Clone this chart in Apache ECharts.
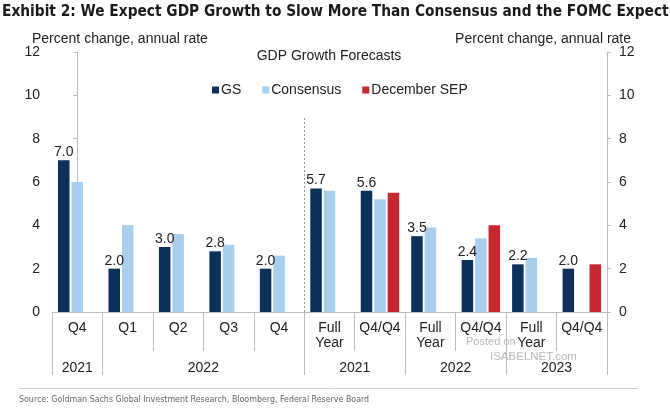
<!DOCTYPE html>
<html>
<head>
<meta charset="utf-8">
<script src="https://cdn.jsdelivr.net/npm/echarts@6/dist/echarts.min.js"></script>
<style>html,body{margin:0;padding:0;background:#fff}#c{width:670px;height:408px}</style>
</head>
<body>
<div id="c"></div>
<script>
const categories = ['Q4', 'Q1', 'Q2', 'Q3', 'Q4', 'Full\nYear', 'Q4/Q4', 'Full\nYear', 'Q4/Q4', 'Full\nYear', 'Q4/Q4'];
const gsValues = [7.0, 2.0, 3.0, 2.8, 2.0, 5.7, 5.6, 3.5, 2.4, 2.2, 2.0];
const consensusValues = [6.0, 4.0, 3.6, 3.1, 2.6, 5.6, 5.2, 3.9, 3.4, 2.5, null];
const sepValues = [null, null, null, null, null, null, 5.5, null, 4.0, null, 2.2];
const yearLabels = ['2021', '2022', '2021', '2022', '2023'];
const yearLabelPos = [0, 2.5, 5.5, 7.5, 9.5];
const yearBounds = [-0.5, 0.5, 4.5, 6.5, 8.5, 10.5];
const yTicks = { min: 0, max: 12, interval: 2 };
const dividerAt = 4.5;
const dividerTop = 9;

const NAVY = '#0c305c', LIGHT = '#a8cfee', RED = '#c6282f';
const AXIS = '#bdbdbd';
const FONT = '"Liberation Sans", Arial, sans-serif';
const NARROW = '"Liberation Sans Narrow", "DejaVu Sans Condensed", sans-serif';

const chart = echarts.init(document.getElementById('c'));
const yAxisCommon = {
  type: 'value', min: yTicks.min, max: yTicks.max, interval: yTicks.interval,
  axisLine: { show: true, lineStyle: { color: AXIS } },
  axisTick: { show: true, length: 4, lineStyle: { color: AXIS } },
  splitLine: { show: false },
  axisLabel: { fontSize: 14, color: '#222', fontFamily: FONT, margin: 12 }
};
function txt(size, color, family, weight) {
  return { fontFamily: family || FONT, fontWeight: weight || 'normal', fontSize: size, color: color || '#222' };
}
chart.setOption({
  animation: false,
  title: [
    { text: 'Exhibit 2: We Expect GDP Growth to Slow More Than Consensus and the FOMC Expect', left: 2, top: 5, padding: 0,
      textStyle: txt(15.3, '#1a1a1a', NARROW, 'bold') },
    { text: 'GDP Growth Forecasts', left: 329, top: 49, padding: 0, textAlign: 'center', textStyle: txt(14) },
    { text: 'Percent change, annual rate', left: 32, top: 32, padding: 0, textStyle: txt(14) },
    { text: 'Percent change, annual rate', right: 39, top: 32, padding: 0, textStyle: txt(14) },
    { text: 'Source: Goldman Sachs Global Investment Research, Bloomberg, Federal Reserve Board', left: 19, top: 395, padding: 0,
      textStyle: txt(8.8, '#666', NARROW) },
    { text: 'Posted on', left: 466, top: 336, padding: 0, textStyle: txt(11, '#b8b8b8') },
    { text: 'ISABELNET.com', left: 490, top: 351, padding: 0, textStyle: txt(11.5, '#b8b8b8') }
  ],
  graphic: [
    { type: 'line', shape: { x1: 19, y1: 388.5, x2: 638, y2: 388.5 }, style: { stroke: '#cfcfcf', lineWidth: 1 }, silent: true }
  ],
  legend: {
    left: 207, top: 78, itemWidth: 7, itemHeight: 7, itemGap: 21, icon: 'rect',
    textStyle: { fontFamily: FONT, fontSize: 14, color: '#222', padding: [0, 0, 0, -3] },
    data: ['GS', 'Consensus', 'December SEP']
  },
  grid: { left: 52, right: 63, top: 52, bottom: 96, containLabel: false },
  xAxis: [
    { type: 'category', data: categories, position: 'bottom',
      axisLine: { show: true, lineStyle: { color: AXIS } },
      axisTick: { show: true, alignWithLabel: false, interval: 0, length: 39, lineStyle: { color: AXIS } },
      axisLabel: { interval: 0, fontSize: 14, lineHeight: 15, color: '#222', fontFamily: FONT, margin: 9 } },
    { type: 'value', min: -0.5, max: 10.5, position: 'bottom',
      axisLine: { show: false },
      splitLine: { show: false },
      axisTick: { show: true, customValues: yearBounds, length: 63, lineStyle: { color: AXIS } },
      axisLabel: { customValues: yearLabelPos, fontSize: 14, color: '#222', fontFamily: FONT, margin: 49,
        formatter: function (v) { const i = yearLabelPos.indexOf(v); return i >= 0 ? yearLabels[i] : ''; } } }
  ],
  yAxis: [
    Object.assign({ position: 'left' }, yAxisCommon),
    Object.assign({ position: 'right' }, yAxisCommon)
  ],
  series: [
    { name: 'GS', type: 'bar', data: gsValues, barWidth: 11.5, barGap: '17%', itemStyle: { color: NAVY },
      label: { show: true, position: 'top', distance: 1, fontSize: 14, color: '#222', fontFamily: FONT,
        formatter: function (p) { return p.value.toFixed(1); } } },
    { name: 'Consensus', type: 'bar', data: consensusValues, barWidth: 11.5, barGap: '17%', itemStyle: { color: LIGHT } },
    { name: 'December SEP', type: 'bar', data: sepValues, barWidth: 11.5, barGap: '17%', itemStyle: { color: RED } },
    { name: 'divider', type: 'line', xAxisIndex: 1, yAxisIndex: 0, data: [], silent: true,
      markLine: { silent: true, symbol: 'none', label: { show: false },
        lineStyle: { type: [2, 2], color: '#999', width: 1 },
        data: [[{ coord: [dividerAt, 0] }, { coord: [dividerAt, dividerTop] }]] } }
  ]
});
</script>
</body>
</html>
